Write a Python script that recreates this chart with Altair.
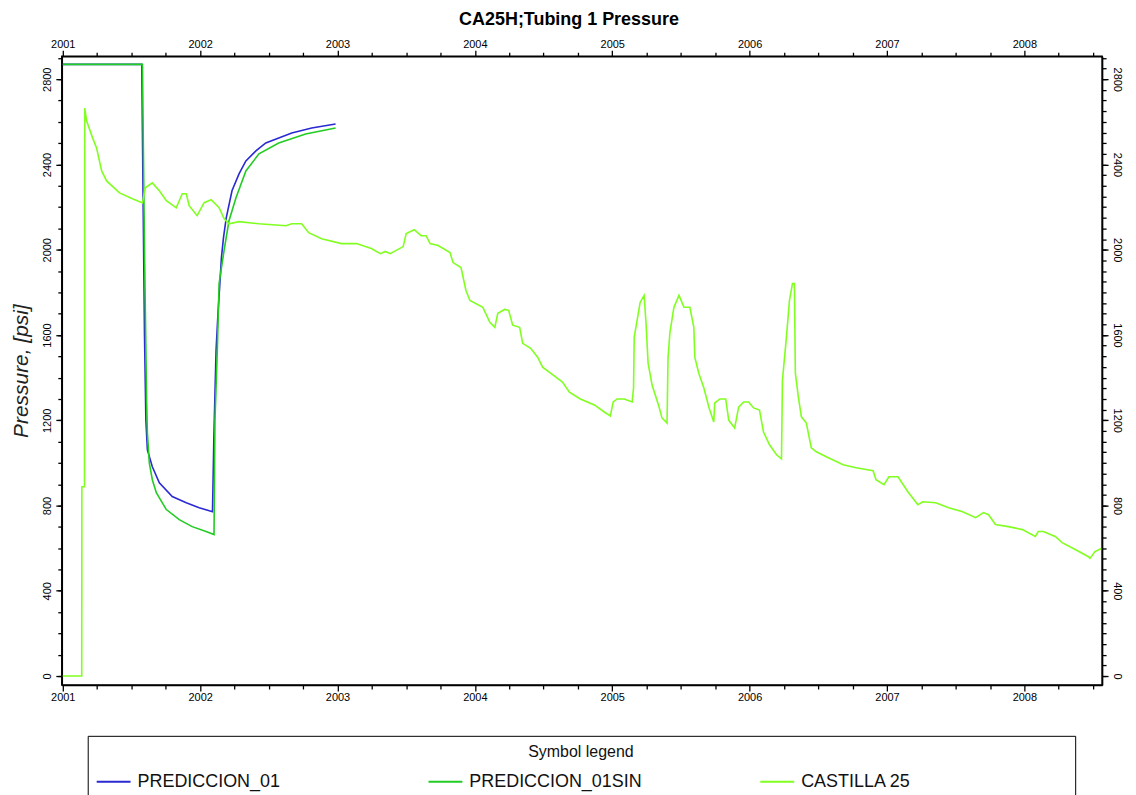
import altair as alt
import pandas as pd

SERIES = ["PREDICCION_01", "PREDICCION_01SIN", "CASTILLA 25"]
COLORS = ["#2a2ad2", "#22cc22", "#80ff20"]

# PREDICCION_01 (decimal year, psi)
pred_year = [2001.000, 2001.575, 2001.585, 2001.595, 2001.605, 2001.616, 2001.652, 2001.703, 2001.797, 2001.899,
             2001.993, 2002.090, 2002.100, 2002.116, 2002.130, 2002.145, 2002.155, 2002.170, 2002.190, 2002.232,
             2002.283, 2002.333, 2002.406, 2002.478, 2002.667, 2002.812, 2002.986]
pred_psi = [2870, 2870, 2220, 1600, 1200, 1061, 982, 907, 842, 813,
            790, 771, 1122, 1529, 1702, 1856, 1963, 2057, 2150, 2277,
            2356, 2417, 2464, 2501, 2548, 2571, 2590]

# PREDICCION_01SIN
sin_year = [2001.000, 2001.580, 2001.595, 2001.610, 2001.616, 2001.630, 2001.652, 2001.681, 2001.754, 2001.848,
            2001.942, 2002.043, 2002.101, 2002.108, 2002.125, 2002.138, 2002.174, 2002.210, 2002.261, 2002.333,
            2002.428, 2002.572, 2002.768, 2002.986]
sin_psi = [2870, 2870, 2000, 1300, 1141, 1000, 921, 860, 781, 734,
           701, 678, 664, 1200, 1529, 1842, 1996, 2136, 2244, 2370,
           2450, 2501, 2543, 2571]

# CASTILLA 25 (measured)
cas_year = [2001.000, 2001.138, 2001.139, 2001.158, 2001.160, 2001.174, 2001.217, 2001.246, 2001.283, 2001.319,
            2001.413, 2001.507, 2001.580, 2001.601, 2001.652, 2001.703, 2001.754, 2001.826, 2001.870, 2001.899,
            2001.920, 2001.978, 2002.029, 2002.080, 2002.138, 2002.174, 2002.210, 2002.283, 2002.428, 2002.623,
            2002.667, 2002.739, 2002.790, 2002.884, 2003.029, 2003.138, 2003.246, 2003.312, 2003.348, 2003.384,
            2003.478, 2003.500, 2003.558, 2003.609, 2003.645, 2003.674, 2003.732, 2003.819, 2003.841, 2003.899,
            2003.935, 2003.964, 2004.058, 2004.109, 2004.145, 2004.167, 2004.217, 2004.246, 2004.275, 2004.326,
            2004.348, 2004.406, 2004.457, 2004.493, 2004.551, 2004.638, 2004.688, 2004.768, 2004.870, 2004.942,
            2004.986, 2005.007, 2005.036, 2005.087, 2005.145, 2005.155, 2005.160, 2005.181, 2005.203, 2005.232,
            2005.246, 2005.261, 2005.290, 2005.341, 2005.362, 2005.399, 2005.406, 2005.420, 2005.449, 2005.486,
            2005.522, 2005.565, 2005.594, 2005.601, 2005.630, 2005.667, 2005.703, 2005.739, 2005.746, 2005.783,
            2005.826, 2005.848, 2005.891, 2005.920, 2005.957, 2005.993, 2006.029, 2006.072, 2006.101, 2006.145,
            2006.196, 2006.232, 2006.239, 2006.268, 2006.290, 2006.312, 2006.326, 2006.333, 2006.355, 2006.377,
            2006.413, 2006.449, 2006.486, 2006.558, 2006.681, 2006.775, 2006.899, 2006.920, 2006.978, 2007.014,
            2007.080, 2007.152, 2007.225, 2007.261, 2007.355, 2007.449, 2007.551, 2007.645, 2007.703, 2007.739,
            2007.790, 2007.884, 2007.986, 2008.080, 2008.101, 2008.138, 2008.225, 2008.275, 2008.370, 2008.464,
            2008.478, 2008.514, 2008.560]
cas_psi = [0, 0, 888, 888, 2665, 2604, 2525, 2478, 2370, 2323,
           2267, 2239, 2220, 2291, 2314, 2277, 2230, 2197, 2263, 2263,
           2207, 2160, 2221, 2235, 2197, 2146, 2122, 2132, 2122, 2113,
           2122, 2122, 2080, 2052, 2029, 2029, 2006, 1982, 1992, 1982,
           2015, 2076, 2094, 2066, 2066, 2029, 2020, 1987, 1940, 1917,
           1809, 1762, 1730, 1660, 1636, 1702, 1720, 1716, 1646, 1636,
           1561, 1538, 1496, 1449, 1421, 1379, 1332, 1300, 1272, 1239,
           1220, 1286, 1300, 1300, 1286, 1351, 1590, 1669, 1753, 1786,
           1655, 1468, 1365, 1262, 1211, 1187, 1491, 1613, 1730, 1786,
           1730, 1730, 1636, 1496, 1421, 1351, 1262, 1192, 1281, 1300,
           1300, 1201, 1164, 1262, 1286, 1286, 1258, 1248, 1145, 1085,
           1038, 1019, 1388, 1590, 1762, 1842, 1842, 1421, 1309, 1216,
           1187, 1071, 1052, 1029, 991, 977, 963, 921, 898, 935,
           935, 865, 804, 818, 813, 790, 771, 743, 767, 757,
           711, 701, 687, 655, 678, 678, 655, 626, 594, 561,
           552, 584, 598]

YEAR_TICKS = [2001, 2002, 2003, 2004, 2005, 2006, 2007, 2008]
QUARTER_TICKS = [2001.25, 2001.5, 2001.75, 2002.25, 2002.5, 2002.75, 2003.25, 2003.5, 2003.75,
                 2004.25, 2004.5, 2004.75, 2005.25, 2005.5, 2005.75, 2006.25, 2006.5, 2006.75,
                 2007.25, 2007.5, 2007.75, 2008.25, 2008.5]
PSI_TICKS = [0, 400, 800, 1200, 1600, 2000, 2400, 2800]
PSI_MINOR_LEFT = list(range(0, 2901, 100))
PSI_MINOR_RIGHT = list(range(0, 2901, 50))

rows = []
for name, yrs, ps in [(SERIES[0], pred_year, pred_psi),
                      (SERIES[1], sin_year, sin_psi),
                      (SERIES[2], cas_year, cas_psi)]:
    for i, (a, b) in enumerate(zip(yrs, ps)):
        rows.append({"serie": name, "year": a, "psi": b, "i": i})
df = pd.DataFrame(rows)

xs = alt.Scale(domain=[2000.993, 2008.566], nice=False, zero=False)
ys = alt.Scale(domain=[-42, 2908], nice=False, zero=False)

FONT = "Liberation Sans"
common = dict(grid=False, domainColor="black", tickColor="black", labelColor="black",
              labelFont=FONT, labelFontSize=11, labelFlush=False, labelOverlap=False,
              domainWidth=1.5, tickWidth=1.3)

x_bottom = alt.Axis(orient="bottom", values=YEAR_TICKS, format="d", tickSize=6, labelPadding=1,
                    title=None, **common)
x_bottom_minor = alt.Axis(orient="bottom", values=QUARTER_TICKS, tickSize=4, labels=False,
                          domain=False, title=None, grid=False, tickColor="black", tickWidth=1.3)
x_top = alt.Axis(orient="top", values=YEAR_TICKS, format="d", tickSize=6, labelPadding=1,
                 title=None, **common)
x_top_minor = alt.Axis(orient="top", values=QUARTER_TICKS, tickSize=4, labels=False,
                       domain=False, title=None, grid=False, tickColor="black", tickWidth=1.3)

y_left = alt.Axis(orient="left", values=PSI_TICKS, format="d", tickSize=6, labelPadding=3, labelAngle=-90,
                  labelAlign="center", labelBaseline="bottom",
                  title="Pressure, [psi]", titleFont=FONT, titleFontSize=21,
                  titleFontStyle="italic", titleFontWeight="normal", titleColor="#222",
                  titlePadding=10, **common)
y_left_minor = alt.Axis(orient="left", values=PSI_MINOR_LEFT, tickSize=4, labels=False,
                        domain=False, title=None, grid=False, tickColor="black", tickWidth=1.3)
y_right = alt.Axis(orient="right", values=PSI_TICKS, format="d", tickSize=6, labelPadding=3, labelAngle=90,
                   labelAlign="center", labelBaseline="bottom", title=None, **common)
y_right_minor = alt.Axis(orient="right", values=PSI_MINOR_RIGHT, tickSize=4, labels=False,
                         domain=False, title=None, grid=False, tickColor="black", tickWidth=1.3)

# blank (non-whitespace) filler widens the last legend column so the box spans the page
FILL = "\u2800" * 12
legend = alt.Legend(
    title="Symbol legend", orient="none", legendX=26, legendY=682,
    direction="horizontal", columns=3, gridAlign="all", columnPadding=21,
    symbolType="stroke", symbolSize=1156, symbolStrokeWidth=2,
    labelFont=FONT, labelFontSize=18, labelOffset=6, labelColor="#111", labelLimit=800,
    labelExpr="datum.label + (indexof(datum.label, 'CASTILLA') >= 0 ? '" + FILL + "' : '')",
    titleAnchor="middle", titleFont=FONT, titleFontSize=16, titleFontWeight="normal",
    titleColor="#111", titlePadding=4, padding=8, strokeColor="black", fillColor="white",
)

lines = alt.Chart(df).mark_line(strokeWidth=1.6).encode(
    x=alt.X("year:Q", scale=xs, axis=x_bottom),
    y=alt.Y("psi:Q", scale=ys, axis=y_left),
    color=alt.Color("serie:N", scale=alt.Scale(domain=SERIES, range=COLORS), legend=legend),
    order=alt.Order("i:Q"),
)


def ghost(xax, yax):
    return alt.Chart(df).mark_line(strokeOpacity=0).encode(
        x=alt.X("year:Q", scale=xs, axis=xax),
        y=alt.Y("psi:Q", scale=ys, axis=yax),
        detail="serie:N",
    )


chart = alt.layer(
    lines,
    ghost(x_bottom_minor, y_left_minor),
    ghost(x_top, y_right),
    ghost(x_top_minor, y_right_minor),
).resolve_axis(x="independent", y="independent").properties(
    width=1044, height=631,
    autosize=alt.AutoSizeParams(type="none"),
    padding={"left": 54, "top": 47, "right": 26, "bottom": 115},
    title=alt.TitleParams("CA25H;Tubing 1 Pressure", font=FONT, fontSize=18, fontWeight="bold",
                          anchor="middle", offset=9, dx=-13, color="black"),
    background="white",
).configure_view(stroke="black", strokeWidth=1.5)

chart.save("out.html", embed_options={"renderer": "svg", "actions": False})
